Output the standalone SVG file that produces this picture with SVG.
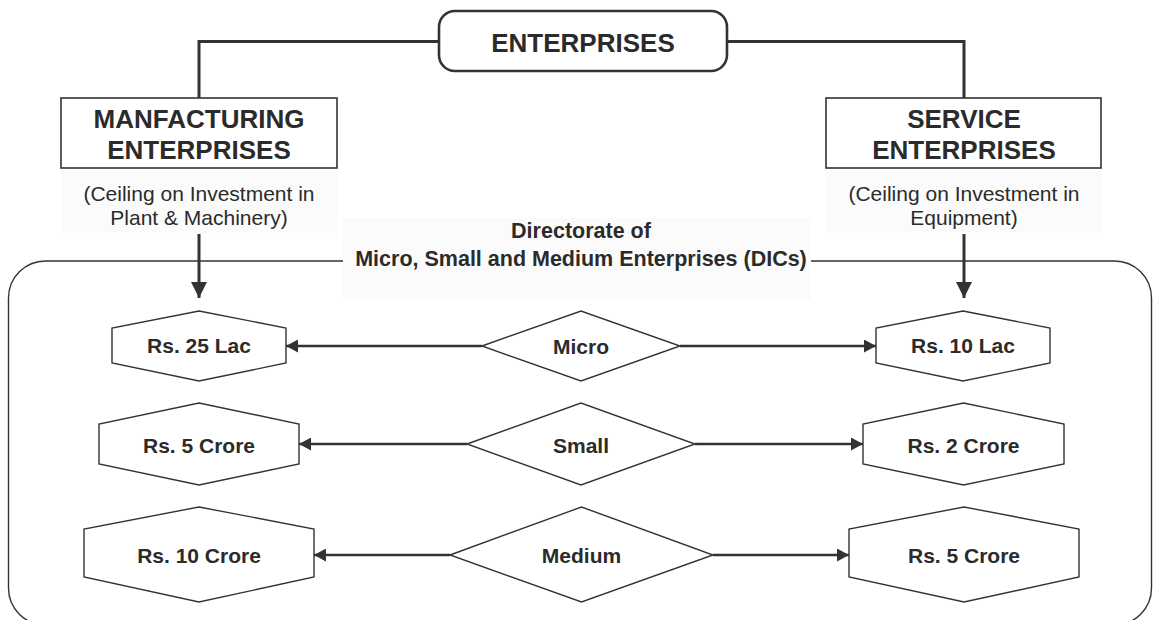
<svg xmlns="http://www.w3.org/2000/svg" width="1153" height="620" viewBox="0 0 1153 620">
<style>
  text { font-family: "Liberation Sans", Arial, sans-serif; fill: #2b2b2b; text-anchor: middle; }
  .b { font-weight: bold; }
  .shape { fill: #ffffff; stroke: #333333; stroke-width: 1.4; }
  .box { fill: #ffffff; stroke: #333333; stroke-width: 1.6; }
  .conn { fill: none; stroke: #333333; stroke-width: 3; }
  .harrow { fill: none; stroke: #333333; stroke-width: 2.6; }
  .frame { fill: none; stroke: #333333; stroke-width: 1.4; }
</style>
<defs>
  <marker id="downHead" markerUnits="userSpaceOnUse" markerWidth="16" markerHeight="16" refX="16" refY="8" orient="auto">
    <path d="M0,0 L16,8 L0,16 z" fill="#333333"/>
  </marker>
  <marker id="hHead" markerUnits="userSpaceOnUse" markerWidth="12" markerHeight="13" refX="12" refY="6.5" orient="auto">
    <path d="M0,0 L12,6.5 L0,13 z" fill="#333333"/>
  </marker>
</defs>
<rect width="1153" height="620" fill="#ffffff"/>

<g id="dic-frame">
  <rect class="frame" x="8.5" y="261" width="1143" height="364" rx="37" ry="37"/>
  <rect x="343" y="218" width="468" height="82" fill="#fbfbfb"/>
  <text class="b" x="581" y="238" font-size="21.5">Directorate of</text>
  <text class="b" x="581" y="266" font-size="21.5">Micro, Small and Medium Enterprises (DICs)</text>
</g>

<g id="connectors">
  <path class="conn" d="M439,41.5 H199 V98"/>
  <path class="conn" d="M727,41.5 H964 V98"/>
  <line class="conn" x1="199" y1="234" x2="199" y2="298" marker-end="url(#downHead)"/>
  <line class="conn" x1="964" y1="234" x2="964" y2="298" marker-end="url(#downHead)"/>
  <line class="harrow" x1="482" y1="346" x2="286" y2="346" marker-end="url(#hHead)"/>
  <line class="harrow" x1="680" y1="346" x2="876" y2="346" marker-end="url(#hHead)"/>
  <line class="harrow" x1="467" y1="444" x2="299" y2="444" marker-end="url(#hHead)"/>
  <line class="harrow" x1="695" y1="444" x2="863" y2="444" marker-end="url(#hHead)"/>
  <line class="harrow" x1="450" y1="555" x2="314" y2="555" marker-end="url(#hHead)"/>
  <line class="harrow" x1="713" y1="555" x2="849" y2="555" marker-end="url(#hHead)"/>
</g>

<g id="enterprises">
  <rect x="439" y="11" width="288" height="60" rx="16" ry="16" fill="#ffffff" stroke="#333333" stroke-width="2.6"/>
  <text class="b" x="583" y="52" font-size="26">ENTERPRISES</text>
</g>

<g id="manufacturing">
  <rect class="box" x="61" y="98" width="276" height="70"/>
  <text class="b" x="199" y="128" font-size="26">MANFACTURING</text>
  <text class="b" x="199" y="159" font-size="26">ENTERPRISES</text>
  <rect x="61" y="170" width="276" height="63" fill="#fbfbfb"/>
  <text x="199" y="201" font-size="21">(Ceiling on Investment in</text>
  <text x="199" y="225" font-size="21">Plant &amp; Machinery)</text>
</g>

<g id="service">
  <rect class="box" x="826" y="98" width="275" height="70"/>
  <text class="b" x="964" y="128" font-size="26">SERVICE</text>
  <text class="b" x="964" y="159" font-size="26">ENTERPRISES</text>
  <rect x="826" y="170" width="275" height="63" fill="#fbfbfb"/>
  <text x="964" y="201" font-size="21">(Ceiling on Investment in</text>
  <text x="964" y="225" font-size="21">Equipment)</text>
</g>

<g id="micro">
  <polygon class="shape" points="482,346 581,311 680,346 581,381"/>
  <text class="b" x="581" y="354" font-size="21">Micro</text>
</g>
<g id="small">
  <polygon class="shape" points="467,444 581,403 695,444 581,485"/>
  <text class="b" x="581" y="453" font-size="21">Small</text>
</g>
<g id="medium">
  <polygon class="shape" points="450,555 581.5,507 713,555 581.5,602"/>
  <text class="b" x="581.5" y="563" font-size="21">Medium</text>
</g>

<g id="mfg-micro">
  <polygon class="shape" points="199,311 286,328 286,363 199,381 112,363 112,328"/>
  <text class="b" x="199" y="353" font-size="21">Rs. 25 Lac</text>
</g>
<g id="mfg-small">
  <polygon class="shape" points="199,403 299,424 299,464 199,485 99,464 99,424"/>
  <text class="b" x="199" y="453" font-size="21">Rs. 5 Crore</text>
</g>
<g id="mfg-medium">
  <polygon class="shape" points="199,507 314,529 314,577 199,602 84,577 84,529"/>
  <text class="b" x="199" y="563" font-size="21">Rs. 10 Crore</text>
</g>

<g id="svc-micro">
  <polygon class="shape" points="963,311 1050,328 1050,363 963,381 876,363 876,328"/>
  <text class="b" x="963" y="353" font-size="21">Rs. 10 Lac</text>
</g>
<g id="svc-small">
  <polygon class="shape" points="963.5,403 1064,424 1064,464 963.5,485 863,464 863,424"/>
  <text class="b" x="963.5" y="453" font-size="21">Rs. 2 Crore</text>
</g>
<g id="svc-medium">
  <polygon class="shape" points="964,507 1079,529 1079,577 964,602 849,577 849,529"/>
  <text class="b" x="964" y="563" font-size="21">Rs. 5 Crore</text>
</g>
</svg>
